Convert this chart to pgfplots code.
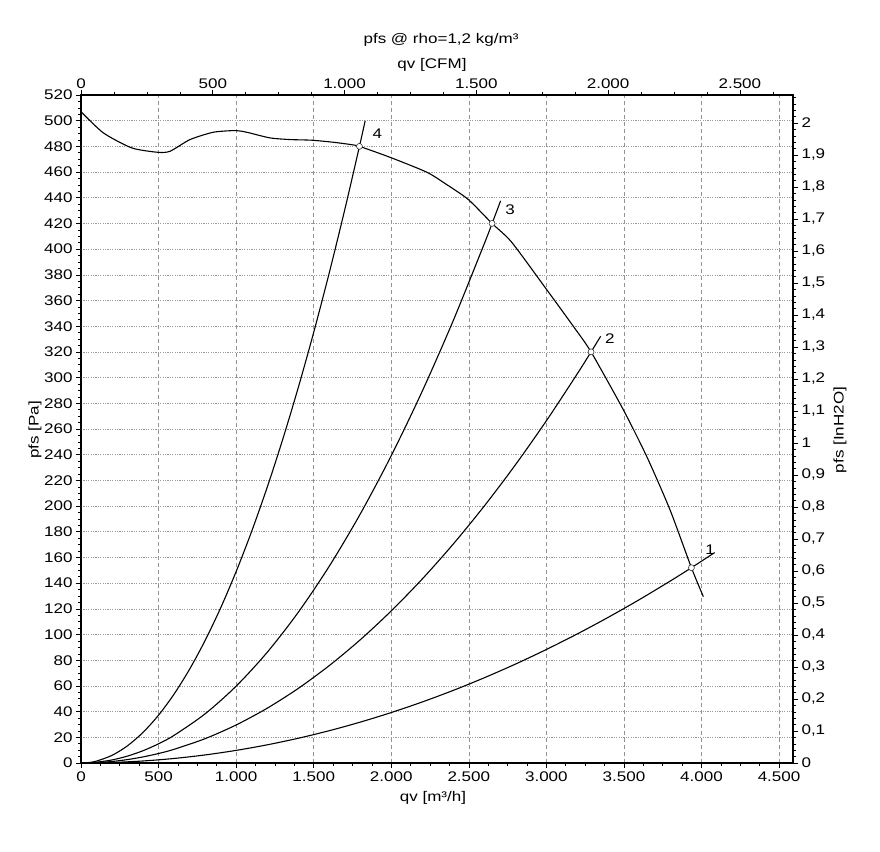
\documentclass[border=0pt]{standalone}
\usepackage{fontspec}
\setmainfont[FakeStretch=1.22]{Liberation Sans}
\usepackage{pgfplots}
\pgfplotsset{compat=1.18}
\begin{document}
\begin{tikzpicture}[x=1bp,y=1bp]
\useasboundingbox (-81,-89) rectangle (799,763);
\pgfplotsset{
 common/.style={scale only axis, width=712bp, height=668bp, at={(0,0)}, anchor=south west,
   tick align=outside, major tick length=5bp, minor tick length=3bp,
   every tick/.style={black, line width=0.6bp},
   axis line style={line width=1.2bp, black},
   tick label style={font=\fontsize{14}{16}\selectfont},
   scaled ticks=false,
   /pgf/number format/use comma,
   /pgf/number format/1000 sep={.},
   /pgf/number format/assume math mode=true},
}
% main axis: m3/h vs Pa
\begin{axis}[common,
  xmin=0, xmax=4590, ymin=0, ymax=520,
  xtick distance=500, ytick distance=20,
  minor x tick num=3, minor y tick num=3,
  xtick pos=left, ytick pos=left,
  xmajorgrids, ymajorgrids,
  x grid style={gray!85, line width=0.6bp, dash pattern=on 4bp off 3bp},
  y grid style={gray!80, line width=0.6bp, dash pattern=on 1.2bp off 1.2bp},
]
% fan curve
\addplot[black, line width=1.1bp, smooth, tension=0.4] coordinates {
 (0,507) (144,490.5) (327,478.8) (494,475.4) (574,476.2) (703,485.3)
 (853,491) (995,492.3) (1068,491) (1218,486.6) (1347,485.3) (1487,484.8)
 (1627,483.2) (1734,481.5) (1795,480) (1992,471.5) (2229,459.9) (2357,450.3)
 (2497,438.6) (2650,420) (2777,405.3) (3002,368.5) (3174,339.9) (3288,320)
 (3496,275) (3647,238.6) (3797,197.1) (3935,152) (4012,129.5)};
% system curve 4
\addplot[black, line width=1.1bp, smooth] coordinates {
 (50,0.37) (100,1.49) (200,5.96) (300,13.41) (400,23.84) (500,37.24) (600,53.63)
 (700,73.0) (800,95.34) (900,120.67) (1000,148.98) (1100,180.26) (1200,214.52)
 (1300,251.77) (1400,291.99) (1500,335.19) (1600,381.38) (1700,430.54) (1795,480) (1832,500)};
% system curve 3
\addplot[black, line width=1.1bp, smooth] coordinates {
 (50,0.15) (100,0.60) (200,2.39) (300,5.38) (400,9.57) (500,14.95) (600,21.53)
 (800,38.28) (1000,59.81) (1200,86.12) (1400,117.22) (1600,153.11) (1800,193.78)
 (2000,239.23) (2200,289.47) (2400,344.49) (2600,404.30) (2650,420) (2705,437.6)};
% system curve 2
\addplot[black, line width=1.1bp, smooth] coordinates {
 (50,0.07) (100,0.30) (200,1.18) (300,2.66) (400,4.74) (500,7.40) (600,10.66)
 (800,18.94) (1000,29.60) (1200,42.62) (1400,58.02) (1600,75.78) (1800,95.90)
 (2000,118.40) (2200,143.26) (2400,170.49) (2600,200.09) (2800,232.06)
 (3000,266.40) (3200,303.10) (3288,320) (3350,332.18)};
% system curve 1
\addplot[black, line width=1.1bp, smooth] coordinates {
 (50,0.03) (100,0.10) (200,0.39) (400,1.57) (600,3.53) (800,6.28) (1000,9.82)
 (1200,14.14) (1400,19.24) (1600,25.13) (1800,31.81) (2000,39.27) (2200,47.51)
 (2400,56.54) (2600,66.36) (2800,76.96) (3000,88.35) (3200,100.52) (3400,113.48)
 (3600,127.22) (3800,141.75) (3935,152) (4085,163.81)};
% operating points
\addplot[only marks, mark=*, mark size=3pt,
  mark options={fill=white, draw=black!80, line width=0.6bp}] coordinates {
 (1795,480) (2650,420) (3288,320) (3935,152)};
\node[font=\fontsize{14}{16}\selectfont] at (axis cs:1910,490) {4};
\node[font=\fontsize{14}{16}\selectfont] at (axis cs:2766,431) {3};
\node[font=\fontsize{14}{16}\selectfont] at (axis cs:3410,330) {2};
\node[font=\fontsize{14}{16}\selectfont] at (axis cs:4055,166) {1};
\end{axis}
% top axis: CFM
\begin{axis}[common,
  xmin=0, xmax=2701.6, ymin=0, ymax=1,
  axis x line*=top, axis y line=none,
  xtick distance=500, minor xtick={0,125,...,2625},
  xticklabel style={yshift=-2bp},
]
\end{axis}
% right axis: inH2O
\begin{axis}[common,
  xmin=0, xmax=1, ymin=0, ymax=2.08762,
  axis y line*=right, axis x line=none,
  ytick={0,0.1,...,2.05}, minor ytick={0,0.02,...,2.085},
  yticklabel style={/pgf/number format/fixed, /pgf/number format/precision=1},
]
\end{axis}
% texts
\node[font=\fontsize{14}{16}\selectfont] at (360,723) {pfs @ rho=1,2 kg/m³};
\node[font=\fontsize{14}{16}\selectfont] at (351,698) {qv [CFM]};
\node[font=\fontsize{14}{16}\selectfont] at (352,-35) {qv [m³/h]};
\node[font=\fontsize{14}{16}\selectfont, rotate=90] at (-46,333) {pfs [Pa]};
\node[font=\fontsize{14}{16}\selectfont, rotate=90] at (759,333) {pfs [InH2O]};
\end{tikzpicture}
\end{document}
